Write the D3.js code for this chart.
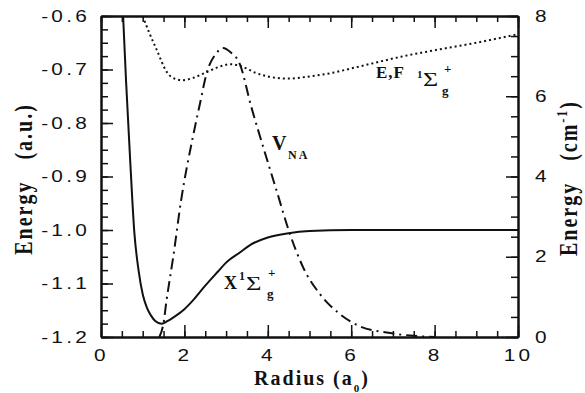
<!DOCTYPE html>
<html lang="en">
<head>
<meta charset="utf-8">
<title>H2 potential curves</title>
<script src="https://d3js.org/d3.v7.min.js"></script>
<style>
  body { margin: 0; background: #fff; }
  .tick text { font-family: "Liberation Sans", Arial, sans-serif; font-size: 16px; letter-spacing: 2.5px; fill: #111; }
  .lbl { font-family: "Liberation Serif", "DejaVu Serif", serif; font-weight: bold; fill: #111; }
</style>
</head>
<body>
<script>
// canvas
const width = 585, height = 393;
const margin = {top: 16, right: 67, bottom: 56, left: 101};
const S = 1.3; // horizontal stretch of the original lettering

// axis ticks
const xTicks = [0, 2, 4, 6, 8, 10];
const leftTicks = [-1.2, -1.1, -1.0, -0.9, -0.8, -0.7, -0.6];
const rightTicks = [0, 2, 4, 6, 8];

// X 1Sigma_g+ ground state (a.u.)
const xR = [0.53, 0.6, 0.7, 0.8, 0.9, 1.0, 1.1, 1.2, 1.3, 1.45, 1.6, 1.8, 2.0, 2.2, 2.5, 2.8, 3.0, 3.33, 3.6, 4.0, 4.5, 5.0, 6.0, 7.0, 8.0, 10.0];
const xE = [-0.60, -0.72, -0.87, -1.005, -1.075, -1.12, -1.145, -1.16, -1.17, -1.175, -1.17, -1.16, -1.148, -1.132, -1.104, -1.078, -1.061, -1.042, -1.027, -1.014, -1.006, -1.002, -1.0, -1.0, -1.0, -1.0];

// E,F 1Sigma_g+ state (a.u.)
const efR = [1.0, 1.15, 1.34, 1.58, 1.8, 1.95, 2.2, 2.5, 2.8, 3.1, 3.4, 3.7, 4.0, 4.5, 5.0, 5.5, 6.0, 6.7, 7.2, 8.0, 9.0, 10.0];
const efE = [-0.60, -0.63, -0.664, -0.705, -0.718, -0.72, -0.716, -0.706, -0.696, -0.69, -0.695, -0.706, -0.713, -0.717, -0.713, -0.707, -0.698, -0.685, -0.676, -0.664, -0.65, -0.634];

// V_NA coupling (cm-1, right axis)
const vR = [1.4, 1.5, 1.57, 1.73, 1.92, 2.2, 2.37, 2.54, 2.75, 2.93, 3.1, 3.33, 3.6, 3.9, 4.21, 4.53, 4.85, 5.25, 5.73, 6.2, 6.85, 7.5, 8.0];
const vV = [0.0, 0.35, 0.9, 1.98, 3.4, 4.97, 5.8, 6.6, 7.05, 7.2, 7.1, 6.8, 5.75, 4.7, 3.65, 2.57, 1.73, 1.07, 0.57, 0.27, 0.11, 0.03, 0.0];

const svg = d3.select("body").append("svg")
  .attr("width", width).attr("height", height);

const x = d3.scaleLinear().domain([0, 10]).range([margin.left, width - margin.right]);
const yL = d3.scaleLinear().domain([-1.2, -0.6]).range([height - margin.bottom, margin.top]);
const yR = d3.scaleLinear().domain([0, 8]).range([height - margin.bottom, margin.top]);

svg.append("clipPath").attr("id", "plot")
  .append("rect")
  .attr("x", margin.left).attr("y", margin.top)
  .attr("width", width - margin.left - margin.right)
  .attr("height", height - margin.top - margin.bottom);

// curves
const g = svg.append("g").attr("clip-path", "url(#plot)")
  .attr("fill", "none").attr("stroke", "#111");

const lineL = d3.line().x(d => x(d[0])).y(d => yL(d[1])).curve(d3.curveMonotoneX);
const lineR = d3.line().x(d => x(d[0])).y(d => yR(d[1])).curve(d3.curveMonotoneX);

g.append("path").datum(d3.zip(xR, xE)).attr("d", lineL).attr("stroke-width", 2);
g.append("path").datum(d3.zip(efR, efE)).attr("d", lineL)
  .attr("stroke-width", 2).attr("stroke-dasharray", "2,3");
g.append("path").datum(d3.zip(vR, vV)).attr("d", lineR)
  .attr("stroke-width", 2).attr("stroke-dasharray", "11,5,2,5");

// axes
const minorX = d3.range(0, 10.001, 0.5);
const minorL = d3.range(-1.2, -0.599, 0.025);
const minorR = d3.range(0, 8.001, 0.5);

function styleAxis(sel) {
  sel.select(".domain").attr("stroke", "#111").attr("stroke-width", 2);
  sel.selectAll(".tick line").attr("stroke", "#111").attr("stroke-width", 1.5);
}

// minor ticks first
svg.append("g").attr("transform", `translate(0,${height - margin.bottom})`)
  .call(d3.axisBottom(x).tickValues(minorX).tickFormat("").tickSizeInner(-6).tickSizeOuter(0)).call(styleAxis);
svg.append("g").attr("transform", `translate(0,${margin.top})`)
  .call(d3.axisTop(x).tickValues(minorX).tickFormat("").tickSizeInner(-6).tickSizeOuter(0)).call(styleAxis);
svg.append("g").attr("transform", `translate(${margin.left},0)`)
  .call(d3.axisLeft(yL).tickValues(minorL).tickFormat("").tickSizeInner(-7).tickSizeOuter(0)).call(styleAxis);
svg.append("g").attr("transform", `translate(${width - margin.right},0)`)
  .call(d3.axisRight(yR).tickValues(minorR).tickFormat("").tickSizeInner(-7).tickSizeOuter(0)).call(styleAxis);

// major ticks with labels
const bottom = svg.append("g").attr("transform", `translate(0,${height - margin.bottom})`)
  .call(d3.axisBottom(x).tickValues(xTicks).tickFormat(d3.format("d")).tickSizeInner(-12).tickSizeOuter(0).tickPadding(13))
  .call(styleAxis);
bottom.selectAll(".tick text").attr("transform", `scale(${S},1)`);

svg.append("g").attr("transform", `translate(0,${margin.top})`)
  .call(d3.axisTop(x).tickValues(xTicks).tickFormat("").tickSizeInner(-12).tickSizeOuter(0))
  .call(styleAxis);

const left = svg.append("g").attr("transform", `translate(${margin.left},0)`)
  .call(d3.axisLeft(yL).tickValues(leftTicks).tickFormat(d => d.toFixed(1)).tickSizeInner(-12).tickSizeOuter(0).tickPadding(11))
  .call(styleAxis);
left.selectAll(".tick text").attr("x", -11 / S).attr("transform", `scale(${S},1)`);

const right = svg.append("g").attr("transform", `translate(${width - margin.right},0)`)
  .call(d3.axisRight(yR).tickValues(rightTicks).tickFormat(d3.format("d")).tickSizeInner(-12).tickSizeOuter(0).tickPadding(17))
  .call(styleAxis);
right.selectAll(".tick text").attr("x", 17 / S).attr("transform", `scale(${S},1)`);

// axis titles
const bt = svg.append("text").attr("class", "lbl")
  .attr("transform", `translate(312,385)`)
  .attr("text-anchor", "middle").style("font-size", "20px").style("letter-spacing", "2px");
bt.append("tspan").text("Radius\u00A0(a");
bt.append("tspan").attr("dy", 7).style("font-size", "11px").text("0");
bt.append("tspan").attr("dy", -7).text(")");

svg.append("text").attr("class", "lbl")
  .attr("transform", `translate(32,179) scale(${S},1) rotate(-90)`)
  .attr("text-anchor", "middle").style("font-size", "20px").style("letter-spacing", "2px")
  .text("Energy\u00A0\u00A0\u00A0(a.u.)");

const rt = svg.append("text").attr("class", "lbl")
  .attr("transform", `translate(577,178) scale(${S},1) rotate(-90)`)
  .attr("text-anchor", "middle").style("font-size", "20px").style("letter-spacing", "2px");
rt.append("tspan").text("Energy\u00A0\u00A0\u00A0(cm");
rt.append("tspan").attr("dy", -8).style("font-size", "12px").text("-1");
rt.append("tspan").attr("dy", 8).text(")");

// curve labels, one piece at a time
function piece(px, py, txt, size, sx = 1, weight = "bold", ls = 0) {
  svg.append("text").attr("class", "lbl")
    .attr("transform", `translate(${px},${py}) scale(${sx},1)`)
    .style("font-size", size + "px").style("font-weight", weight)
    .style("letter-spacing", ls + "px")
    .text(txt);
}

piece(376, 78, "E,F", 17, 1, "bold", 1);
piece(417, 78, "1", 11);
piece(423, 86, "\u03A3", 18, 1.45, "normal");
piece(442, 95, "g", 13);
piece(444, 73, "+", 13);

piece(224, 289, "X", 18);
piece(239, 280, "1", 12);
piece(246, 290, "\u03A3", 19, 1.4, "normal");
piece(267, 298, "g", 13);
piece(268, 277, "+", 13);

piece(272, 150, "V", 20);
piece(288, 159, "NA", 12, 1, "bold", 2);
</script>
</body>
</html>
